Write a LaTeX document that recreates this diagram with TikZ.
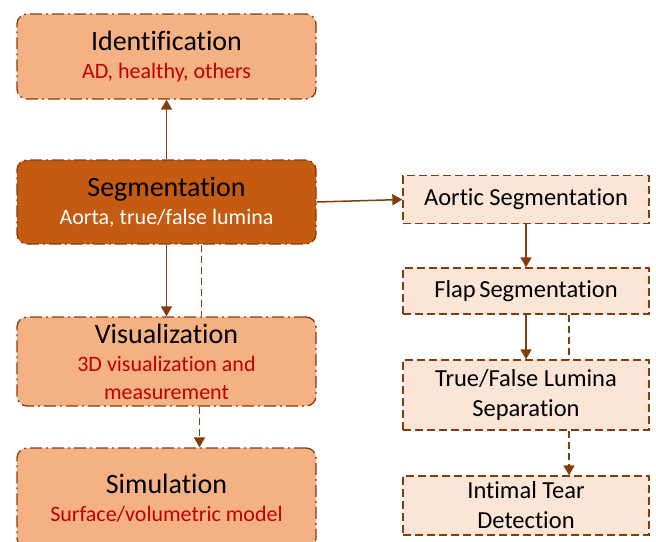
\documentclass[tikz,border=0pt]{standalone}
\usepackage{fontspec}
\setmainfont{Carlito}[Ligatures=NoCommon]
\usetikzlibrary{arrows.meta}
\definecolor{brd}{HTML}{843C0C}
\definecolor{segfill}{HTML}{C55A11}
\definecolor{lightfill}{HTML}{F4B183}
\definecolor{palefill}{HTML}{FBE5D6}
\definecolor{redtxt}{HTML}{C00000}
\newcommand{\ttl}{\fontsize{28}{28}\selectfont}
\newcommand{\sbt}{\fontsize{22}{28}\selectfont\color{redtxt}}
\tikzset{
  leftbox/.style={draw=brd, line width=1.3pt, rounded corners=10pt,
    dash pattern=on 12pt off 4pt on 2pt off 4pt,
    font=\fontsize{22}{28}\selectfont,
    minimum width=299pt, inner sep=0pt, align=center, text=black},
  rightbox/.style={draw=brd, line width=1.3pt, fill=palefill,
    dash pattern=on 8pt off 4pt,
    font=\fontsize{24.5}{30}\selectfont,
    minimum width=246pt, inner sep=0pt, align=center, text=black},
  conn/.style={draw=brd, line width=1.5pt, -{Triangle[width=11pt,length=10pt]}},
  dconn/.style={conn, dash pattern=on 7pt off 4pt},
  dline/.style={draw=brd, line width=1.5pt, dash pattern=on 7pt off 4pt}
}
\begin{document}
\begin{tikzpicture}[x=1pt,y=-1pt]
\useasboundingbox (0,0) rectangle (656,541);
\node[leftbox, fill=lightfill, minimum height=85pt] (ident) at (166.5,56.5)
  {{\ttl Identification}\\{\sbt AD, healthy, others}};
\node[leftbox, fill=segfill, minimum height=84pt] (seg) at (166.5,202)
  {{\ttl Segmentation}\\{\color{white}Aorta, true/false lumina}};
\node[leftbox, fill=lightfill, minimum height=89pt] (vis) at (166.5,361.5)
  {{\ttl Visualization}\\{\sbt 3D visualization and}\\{\sbt measurement}};
\node[leftbox, fill=lightfill, minimum height=100pt] (sim) at (166.5,498)
  {{\ttl Simulation}\\{\sbt Surface/volumetric model}};
\node[rightbox, minimum height=48pt] (aortic) at (526,199.5) {Aortic Segmentation};
\node[rightbox, minimum height=46pt] (flap) at (526,291) {Flap\hspace{-2pt} Segmentation};
\node[rightbox, minimum height=70pt] (tf) at (526,395) {True/False Lumina\\Separation};
\node[rightbox, minimum height=59pt] (tear) at (526,505.5) {Intimal Tear\\Detection};
\draw[conn] (seg.north) -- (ident.south);
\draw[conn] (seg.south) -- (vis.north);
\draw[dline] ([xshift=35pt]seg.south) -- ([xshift=35pt]vis.north);
\draw[dconn] ([xshift=33pt]vis.south) -- ([xshift=33pt]sim.north);
\draw[conn] (seg.east) -- (aortic.west);
\draw[conn] (aortic.south) -- (flap.north);
\draw[conn] (flap.south) -- (tf.north);
\draw[dline] ([xshift=43pt]flap.south) -- ([xshift=43pt]tf.north);
\draw[dconn] ([xshift=43pt]tf.south) -- ([xshift=43pt]tear.north);
\end{tikzpicture}
\end{document}
